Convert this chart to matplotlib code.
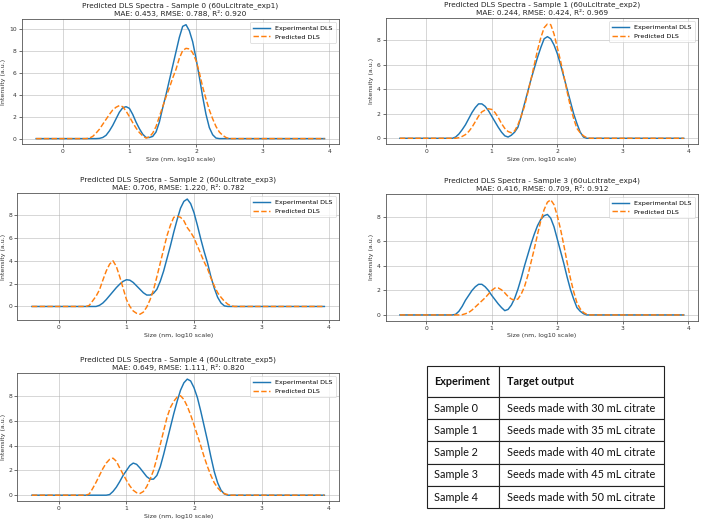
import matplotlib
matplotlib.use("Agg")
import matplotlib.pyplot as plt

# ---- data ----
size_log10 = [-0.4,
              0.3, 0.35, 0.4, 0.45, 0.5, 0.55, 0.6, 0.65, 0.7, 0.75, 0.8, 0.85, 0.9, 0.95,
              1.0, 1.05, 1.1, 1.15, 1.2, 1.25, 1.3, 1.35, 1.4, 1.45, 1.5, 1.55, 1.6, 1.65,
              1.7, 1.75, 1.8, 1.85, 1.9, 1.95, 2.0, 2.05, 2.1, 2.15, 2.2, 2.25, 2.3, 2.35,
              2.4, 2.45, 2.5, 2.55, 2.6,
              3.93]

exp_s0 = [0,
          0, 0, 0, 0, 0, 0.02, 0.1, 0.3, 0.7, 1.2, 1.8, 2.4, 2.8, 2.9,
          2.75, 2.2, 1.5, 0.9, 0.4, 0.1, 0.1, 0.2, 0.6, 1.5, 2.8, 4.0, 5.3, 6.6,
          7.9, 9.2, 10.2, 10.35, 9.8, 8.8, 7.3, 5.6, 3.8, 2.2, 1.0, 0.35, 0.05, 0,
          0, 0, 0, 0, 0,
          0]
pred_s0 = [0,
           0, 0, 0.05, 0.2, 0.5, 0.85, 1.3, 1.75, 2.2, 2.6, 2.85, 3.0, 2.9, 2.5,
           2.0, 1.45, 0.96, 0.55, 0.25, 0.05, 0.15, 0.5, 1.1, 2.0, 2.9, 3.8, 4.6, 5.5,
           6.3, 7.3, 8.0, 8.2, 8.15, 7.8, 7.1, 6.0, 4.7, 3.6, 2.6, 1.8, 1.1, 0.6,
           0.3, 0.1, 0, 0, 0,
           0]

exp_s1 = [0,
          0, 0, 0, 0.1, 0.35, 0.7, 1.1, 1.6, 2.1, 2.5, 2.8, 2.8, 2.6, 2.25,
          1.8, 1.35, 0.9, 0.5, 0.2, 0.1, 0.25, 0.5, 0.9, 1.8, 2.8, 3.8, 4.8, 5.7,
          6.6, 7.4, 8.1, 8.27, 8.1, 7.6, 6.9, 6.0, 5.0, 4.0, 3.0, 2.0, 1.2, 0.5,
          0.1, 0, 0, 0, 0,
          0]
pred_s1 = [0,
           0, 0, 0, 0, 0.05, 0.15, 0.3, 0.55, 0.9, 1.35, 1.8, 2.15, 2.3, 2.4,
           2.35, 2.1, 1.7, 1.2, 0.8, 0.55, 0.45, 0.6, 1.1, 1.8, 2.6, 3.7, 4.8, 6.0,
           7.2, 8.2, 9.0, 9.3, 9.25, 8.5, 7.4, 6.3, 5.1, 3.8, 2.6, 1.6, 0.8, 0.45,
           0.2, 0.05, 0, 0, 0,
           0]

exp_s2 = [0,
          0, 0, 0, 0, 0, 0, 0.1, 0.3, 0.6, 0.95, 1.3, 1.65, 1.95, 2.2,
          2.34, 2.3, 2.1, 1.8, 1.5, 1.2, 1.0, 1.0, 1.15, 1.5, 2.2, 3.1, 4.2, 5.3,
          6.5, 7.6, 8.6, 9.2, 9.4, 9.0, 8.2, 7.1, 5.9, 4.8, 3.8, 2.6, 1.6, 0.8,
          0.3, 0.05, 0, 0, 0,
          0]
pred_s2 = [0,
           0, 0, 0, 0.1, 0.5, 0.9, 1.45, 2.3, 3.1, 3.7, 4.0, 3.5, 2.6, 1.6,
           0.6, 0.0, -0.4, -0.6, -0.68, -0.5, -0.05, 0.6, 1.45, 2.6, 3.8, 5.0, 6.2, 7.1,
           7.8, 7.9, 7.8, 7.5, 6.9, 6.5, 6.0, 5.3, 4.6, 3.9, 3.3, 2.5, 1.8, 1.2,
           0.8, 0.45, 0.2, 0.05, 0,
           0]

exp_s3 = [0,
          0, 0, 0, 0.05, 0.3, 0.7, 1.2, 1.6, 2.0, 2.3, 2.5, 2.5, 2.3, 2.0,
          1.6, 1.25, 0.9, 0.6, 0.35, 0.45, 0.8, 1.35, 2.1, 3.0, 4.0, 4.9, 5.8, 6.6,
          7.3, 7.8, 8.1, 8.2, 7.9, 7.2, 6.2, 5.2, 4.2, 3.1, 2.1, 1.3, 0.6, 0.3,
          0.1, 0, 0, 0, 0,
          0]
pred_s3 = [0,
           0, 0, 0, 0, 0, 0.02, 0.1, 0.2, 0.4, 0.65, 0.9, 1.15, 1.4, 1.7,
           2.0, 2.2, 2.2, 2.05, 1.8, 1.5, 1.3, 1.2, 1.3, 1.7, 2.3, 3.2, 4.3, 5.4,
           6.6, 7.7, 8.6, 9.2, 9.4, 9.0, 8.1, 7.0, 5.7, 4.3, 3.0, 1.9, 1.0, 0.5,
           0.2, 0.05, 0, 0, 0,
           0]

exp_s4 = [0,
          0, 0, 0, 0, 0, 0, 0, 0, 0, 0.05, 0.3, 0.65, 1.1, 1.6,
          2.0, 2.4, 2.6, 2.5, 2.2, 1.85, 1.5, 1.3, 1.3, 1.6, 2.3, 3.3, 4.4, 5.5,
          6.6, 7.6, 8.5, 9.1, 9.4, 9.25, 8.7, 7.9, 6.8, 5.6, 4.4, 3.1, 1.9, 1.0,
          0.4, 0.1, 0, 0, 0,
          0]
pred_s4 = [0,
           0, 0, 0, 0.1, 0.55, 1.05, 1.6, 2.15, 2.6, 2.9, 3.0, 2.75, 2.2, 1.7,
           1.2, 0.75, 0.4, 0.2, 0.14, 0.3, 0.7, 1.3, 2.0, 3.0, 4.1, 5.2, 6.3, 7.1,
           7.6, 7.95, 8.05, 7.75, 7.2, 6.5, 5.7, 4.85, 4.0, 3.1, 2.3, 1.6, 1.0, 0.6,
           0.3, 0.12, 0.05, 0, 0,
           0]

titles = [
    "Predicted DLS Spectra - Sample 0 (60uLcitrate_exp1)\nMAE: 0.453, RMSE: 0.788, R\u00b2: 0.920",
    "Predicted DLS Spectra - Sample 1 (60uLcitrate_exp2)\nMAE: 0.244, RMSE: 0.424, R\u00b2: 0.969",
    "Predicted DLS Spectra - Sample 2 (60uLcitrate_exp3)\nMAE: 0.706, RMSE: 1.220, R\u00b2: 0.782",
    "Predicted DLS Spectra - Sample 3 (60uLcitrate_exp4)\nMAE: 0.416, RMSE: 0.709, R\u00b2: 0.912",
    "Predicted DLS Spectra - Sample 4 (60uLcitrate_exp5)\nMAE: 0.649, RMSE: 1.111, R\u00b2: 0.820",
]

table_header = ["Experiment", "Target output"]
table_samples = ["Sample 0", "Sample 1", "Sample 2", "Sample 3", "Sample 4"]
table_targets = ["Seeds made with 30 mL citrate", "Seeds made with 35 mL citrate",
                 "Seeds made with 40 mL citrate", "Seeds made with 45 mL citrate",
                 "Seeds made with 50 mL citrate"]

exp_series = [exp_s0, exp_s1, exp_s2, exp_s3, exp_s4]
pred_series = [pred_s0, pred_s1, pred_s2, pred_s3, pred_s4]

# ---- layout ----
W, H = 708, 520
fig = plt.figure(figsize=(W / 100, H / 100), dpi=100)

def rect(l, t, r, b):
    return [l / W, 1 - b / H, (r - l) / W, (b - t) / H]

boxes = [rect(21.7, 19, 339, 144.3), rect(385.7, 18.3, 698, 144),
         rect(17.3, 193.3, 339, 320), rect(385.7, 194, 698, 320.7),
         rect(17.3, 373.3, 339, 501)]

for i in range(5):
    ax = fig.add_axes(boxes[i])
    ax.plot(size_log10, exp_series[i], color="#1f77b4", lw=1.05, label="Experimental DLS")
    ax.plot(size_log10, pred_series[i], color="#ff7f0e", lw=1.05, ls="--", label="Predicted DLS")
    ax.set_title(titles[i], fontsize=5.3, pad=2.5, color="#222222", linespacing=1.15)
    ax.set_xlabel("Size (nm, log10 scale)", fontsize=4.5, labelpad=2, color="#333333")
    ax.set_ylabel("Intensity (a.u.)", fontsize=4.5, labelpad=2, color="#333333")
    ax.tick_params(labelsize=4.3, length=2, width=0.5, pad=1.5, colors="#333333")
    ax.grid(True, color="#b0b0b0", alpha=0.6, lw=0.6)
    for sp in ax.spines.values():
        sp.set_color("#555555")
        sp.set_linewidth(0.6)
    leg = ax.legend(loc="upper right", fontsize=4.6, frameon=True, handlelength=2.6,
                    borderpad=0.5, labelspacing=0.5)
    leg.get_frame().set_linewidth(0.5)

# ---- table ----
tax = fig.add_axes(rect(426.7, 366, 664, 508.3))
tax.axis("off")
cell_text = [[s, t] for s, t in zip(table_samples, table_targets)]
tbl = tax.table(cellText=[table_header] + cell_text, colWidths=[0.306, 0.694],
                cellLoc="left", bbox=[0, 0, 1, 1])
tbl.auto_set_font_size(False)
row_h = 22.3
for (r, c), cell in tbl.get_celld().items():
    cell.set_height(31 if r == 0 else row_h)
    cell.set_linewidth(0.8)
    cell.set_edgecolor("#222222")
    cell.PAD = 0.105 if c == 0 else 0.045
    txt = cell.get_text()
    txt.set_fontsize(7.8)
    txt.set_fontfamily("Lato")
    txt.set_color("#111111")
    if r == 0:
        txt.set_fontweight("bold")

fig.savefig("out.png", dpi=100)
